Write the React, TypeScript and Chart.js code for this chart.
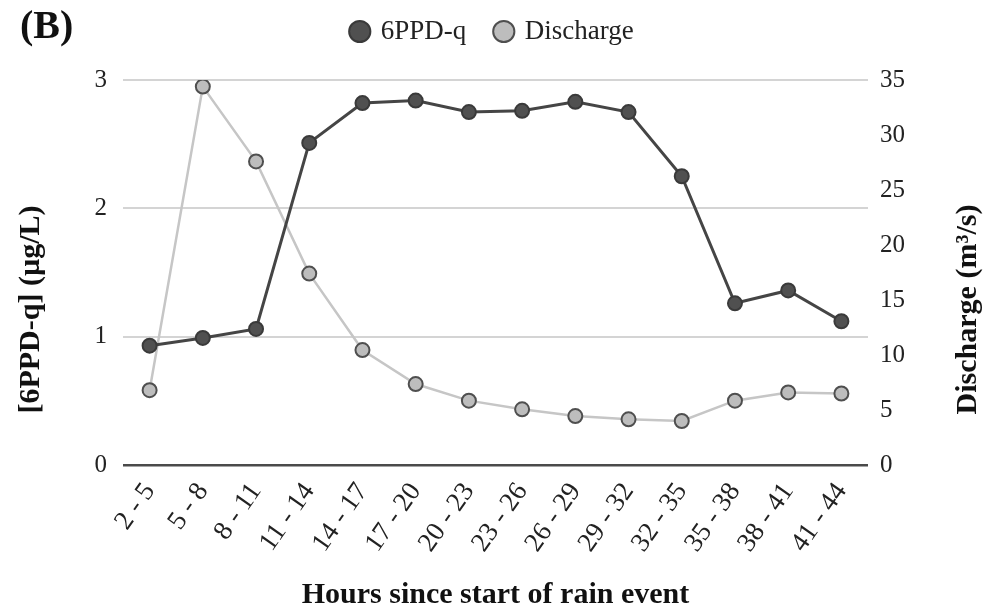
import React, { useEffect, useRef } from "react";
import { Chart, registerables } from "chart.js";

Chart.register(...registerables);

const categories = ["2 - 5", "5 - 8", "8 - 11", "11 - 14", "14 - 17", "17 - 20", "20 - 23", "23 - 26", "26 - 29", "29 - 32", "32 - 35", "35 - 38", "38 - 41", "41 - 44"];
const ppdValues = [0.93, 0.99, 1.06, 2.51, 2.82, 2.84, 2.75, 2.76, 2.83, 2.75, 2.25, 1.26, 1.36, 1.12];
const dischargeValues = [6.8, 34.4, 27.6, 17.4, 10.45, 7.36, 5.85, 5.06, 4.45, 4.15, 4.0, 5.85, 6.6, 6.5];
const leftTitle = "[6PPD-q] (µg/L)";
const rightTitle = "Discharge (m³/s)";
const xTitle = "Hours since start of rain event";
const panelLabel = "(B)";

const FONT = "'Liberation Serif', 'Times New Roman', serif";

export default function App() {
  const ref = useRef<HTMLCanvasElement | null>(null);
  useEffect(() => {
    document.body.style.margin = "0";
    const legendGap = {
      id: "legendGap",
      beforeInit(chart: any) {
        const legend = chart.legend;
        if (!legend) return;
        const orig = legend.fit;
        legend.fit = function () {
          orig.call(this);
          this.height += 25;
        };
      },
    };
    const titlesPlugin = {
      id: "sideTitles",
      afterDraw(chart: any) {
        const ctx = chart.ctx;
        ctx.save();
        ctx.fillStyle = "#111";
        ctx.font = `bold 30px ${FONT}`;
        ctx.textAlign = "center";
        ctx.textBaseline = "middle";
        const cy = chart.height / 2 + 3;
        ctx.save();
        ctx.translate(31, cy);
        ctx.rotate(-Math.PI / 2);
        ctx.fillText(leftTitle, 0, 0);
        ctx.restore();
        ctx.save();
        ctx.translate(chart.width - 18, cy);
        ctx.rotate(-Math.PI / 2);
        ctx.fillText(rightTitle, 0, 0);
        ctx.restore();
        ctx.font = `bold 40px ${FONT}`;
        ctx.textAlign = "left";
        ctx.textBaseline = "middle";
        ctx.fillText(panelLabel, 20, 28);
        ctx.restore();
      },
    };
    const chart = new Chart(ref.current as HTMLCanvasElement, {
      type: "line",
      data: {
        labels: categories,
        datasets: [
          {
            label: "6PPD-q",
            data: ppdValues,
            yAxisID: "y",
            borderColor: "#454545",
            backgroundColor: "#505050",
            pointBackgroundColor: "#505050",
            pointBorderColor: "#3a3a3a",
            pointBorderWidth: 2,
            pointRadius: 7,
            borderWidth: 3,
            tension: 0,
          },
          {
            label: "Discharge",
            data: dischargeValues,
            yAxisID: "y1",
            borderColor: "#c6c6c6",
            backgroundColor: "#bdbdbd",
            pointBackgroundColor: "#bdbdbd",
            pointBorderColor: "#4f4f4f",
            pointBorderWidth: 2,
            pointRadius: 7,
            borderWidth: 2.5,
            tension: 0,
          },
        ],
      },
      options: {
        animation: false,
        responsive: false,
        maintainAspectRatio: false,
        layout: { padding: { top: -12, left: 0, right: 0, bottom: 0 } },
        plugins: {
          legend: {
            position: "top",
            labels: {
              usePointStyle: true,
              pointStyle: "circle",
              boxWidth: 15,
              boxHeight: 15,
              padding: 30,
              color: "#222",
              font: { family: FONT, size: 27 },
            },
          },
          tooltip: { enabled: false },
        },
        scales: {
          x: {
            offset: true,
            grid: { display: false },
            border: { display: false },
            afterFit: (s: any) => {
              s.height = 148;
            },
            ticks: {
              color: "#222",
              font: { family: FONT, size: 27 },
              maxRotation: 55,
              minRotation: 55,
              padding: 4,
            },
            title: {
              display: true,
              text: xTitle,
              color: "#111",
              font: { family: FONT, size: 30, weight: "bold" },
              padding: { top: 4, bottom: 0 },
            },
          },
          y: {
            position: "left",
            min: 0,
            max: 3,
            border: { display: false },
            afterFit: (s: any) => {
              s.width = 123;
            },
            grid: {
              drawTicks: false,
              color: (c: any) => (c.tick && c.tick.value === 0 ? "#4a4a4a" : "#d4d4d4"),
              lineWidth: (c: any) => (c.tick && c.tick.value === 0 ? 2.5 : 2),
            },
            ticks: {
              stepSize: 1,
              color: "#222",
              padding: 16,
              font: { family: FONT, size: 25 },
            },
          },
          y1: {
            position: "right",
            min: 0,
            max: 35,
            border: { display: false },
            afterFit: (s: any) => {
              s.width = 118;
            },
            grid: { display: false, drawTicks: false },
            ticks: {
              stepSize: 5,
              color: "#222",
              padding: 12,
              font: { family: FONT, size: 25 },
            },
          },
        },
      },
      plugins: [legendGap, titlesPlugin],
    } as any);
    return () => chart.destroy();
  }, []);
  return (
    <div style={{ width: 986, height: 613, background: "#fff" }}>
      <canvas ref={ref} width={986} height={613} style={{ display: "block" }} />
    </div>
  );
}
